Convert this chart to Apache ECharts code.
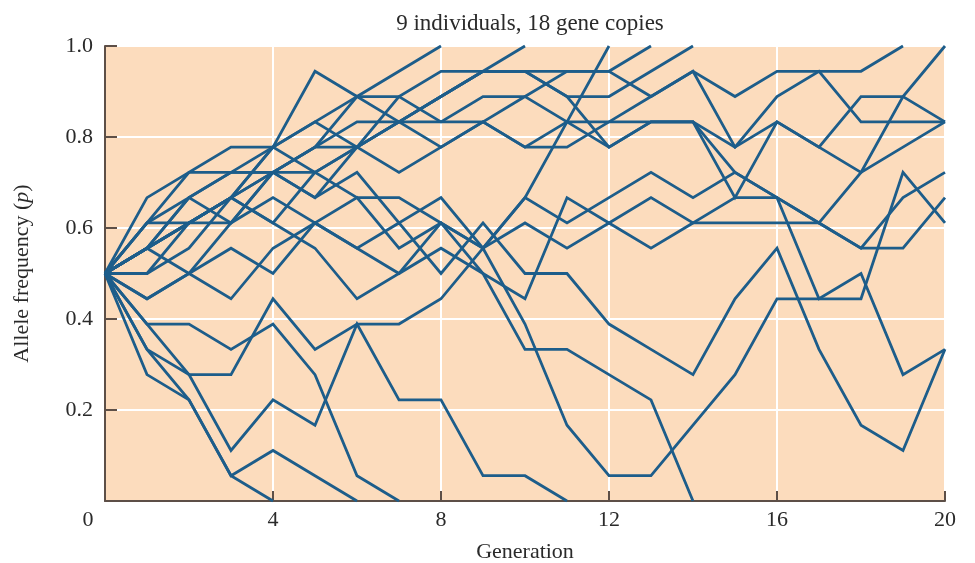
<!DOCTYPE html>
<html>
<head>
<meta charset="utf-8">
<script src="https://cdn.jsdelivr.net/npm/echarts@6/dist/echarts.min.js"></script>
<style>
html,body{margin:0;padding:0;background:#fff;}
#chart{width:975px;height:563px;}
</style>
</head>
<body>
<div id="chart"></div>
<script>
// Number of gene copies (9 diploid individuals)
var GENE_COPIES = 18;
// Generations 0..20
var generations = [0,1,2,3,4,5,6,7,8,9,10,11,12,13,14,15,16,17,18,19,20];
// X tick labels and Y tick labels
var xTicks = [0,4,8,12,16,20];
var yTicks = [0.2,0.4,0.6,0.8,1.0];

// Copies of the allele (out of 18) in each replicate population, per generation
var rep01 = [9,5,4,1,0];
var rep02 = [9,6,4,1,2,1,0];
var rep03 = [9,7,7,6,7,5,1,0];
var rep04 = [9,6,5,2,4,3,7,4,4,1,1,0];
var rep05 = [9,10,11,12,11,10,8,9,11,9,6,6,5,4,0];
var rep06 = [9,7,5,5,8,6,7,7,8,10,7,3,1,1,3,5,8,8,8,13,11];
var rep07 = [9,10,9,8,10,11,10,11,9,11,9,9,7,6,5,8,10,6,3,2,6];
var rep08 = [9,11,12,11,13,12,13,11,12,10,12,11,12,13,12,13,12,8,9,5,6];
var rep09 = [9,10,12,13,13,12,14,13,14,15,14,15,15,15,15,13,12,11,10,12,13];
var rep10 = [9,9,10,12,11,13,12,12,11,10,11,10,11,12,11,12,12,11,10,10,12];
var rep11 = [9,8,9,10,9,11,10,9,10,9,8,12,11,10,11,11,11,11,13,16,18];
var rep12 = [9,10,11,12,13,13,14,16,17,17,17,17,17,16,17,16,17,17,17,18];
var rep13 = [9,11,11,12,14,13,14,15,15,16,16,15,14,15,15,14,16,17,15,15,15];
var rep14 = [9,10,11,12,13,14,14,15,16,17,17,16,14,15,15,12,15,14,16,16,15];
var rep15 = [9,12,13,13,14,15,14,15,14,15,14,14,15,16,17,14,15,14,13,14,15];
var rep16 = [9,11,13,14,14,17,16,17,18];
var rep17 = [9,10,12,13,13,14,16,15,16,17,18];
var rep18 = [9,8,9,11,12,11,12,10,11,10,12,15,18];
var rep19 = [9,9,11,12,14,15,16,16,15,15,16,17,17,18];
var rep20 = [9,10,11,11,13,14,15,15,16,17,17,16,16,17,18];

var replicates = [rep01,rep02,rep03,rep04,rep05,rep06,rep07,rep08,rep09,rep10,
                  rep11,rep12,rep13,rep14,rep15,rep16,rep17,rep18,rep19,rep20];

var SERIF = '"Liberation Serif", "DejaVu Serif", serif';
var LINE_COLOR = '#1d5d8a';
var TEXT_COLOR = '#2a2a2a';
var AXIS_COLOR = '#5d4f47';

var series = replicates.map(function (rep, i) {
  return {
    type: 'line',
    name: 'rep' + (i + 1),
    data: rep.map(function (c, g) { return [generations[g], c / GENE_COPIES]; }),
    symbol: 'none',
    silent: true,
    lineStyle: { color: LINE_COLOR, width: 2.8, join: 'miter' },
    animation: false
  };
});

var chart = echarts.init(document.getElementById('chart'), null, { renderer: 'canvas' });
chart.setOption({
  backgroundColor: '#ffffff',
  animation: false,
  title: {
    text: '9 individuals, 18 gene copies',
    left: 525,
    top: 7,
    textAlign: 'center',
    textStyle: { fontFamily: SERIF, fontSize: 23, fontWeight: 'normal', color: TEXT_COLOR }
  },
  grid: {
    left: 105, right: 30, top: 46, bottom: 62,
    outerBoundsMode: 'none',
    containLabel: false,
    show: true, backgroundColor: '#fcdcbd', borderWidth: 0
  },
  xAxis: {
    type: 'value', min: 0, max: 20, interval: 4,
    name: 'Generation', nameLocation: 'middle', nameGap: 40,
    nameTextStyle: { fontFamily: SERIF, fontSize: 22, color: TEXT_COLOR },
    axisLine: { show: true, onZero: false, lineStyle: { color: AXIS_COLOR, width: 2 } },
    axisTick: { show: true, inside: true, length: 10, lineStyle: { color: AXIS_COLOR, width: 2 } },
    splitLine: { show: true, lineStyle: { color: '#ffffff', width: 2 } },
    axisLabel: {
      margin: 8,
      fontFamily: SERIF, fontSize: 22, color: TEXT_COLOR,
      formatter: function (v) {
        if (xTicks.indexOf(v) < 0) return '';
        return v === 0 ? '{z|0}' : String(v);
      },
      rich: { z: { fontFamily: SERIF, fontSize: 22, color: TEXT_COLOR, padding: [0, 34, 0, 0] } }
    }
  },
  yAxis: {
    type: 'value', min: 0, max: 1, interval: 0.2,
    name: 'Allele frequency ({i|p})', nameLocation: 'middle', nameGap: 72, nameRotate: 90,
    nameTextStyle: {
      fontFamily: SERIF, fontSize: 22, color: TEXT_COLOR,
      rich: { i: { fontFamily: SERIF, fontSize: 22, fontStyle: 'italic', color: TEXT_COLOR } }
    },
    axisLine: { show: true, lineStyle: { color: AXIS_COLOR, width: 2 } },
    axisTick: { show: true, inside: true, length: 12, lineStyle: { color: AXIS_COLOR, width: 2 } },
    splitLine: { show: true, lineStyle: { color: '#ffffff', width: 2 } },
    axisLabel: {
      margin: 12,
      fontFamily: SERIF, fontSize: 22, color: TEXT_COLOR,
      formatter: function (v) {
        for (var j = 0; j < yTicks.length; j++) {
          if (Math.abs(yTicks[j] - v) < 1e-9) return yTicks[j].toFixed(1);
        }
        return '';
      }
    }
  },
  series: series
});
</script>
</body>
</html>
